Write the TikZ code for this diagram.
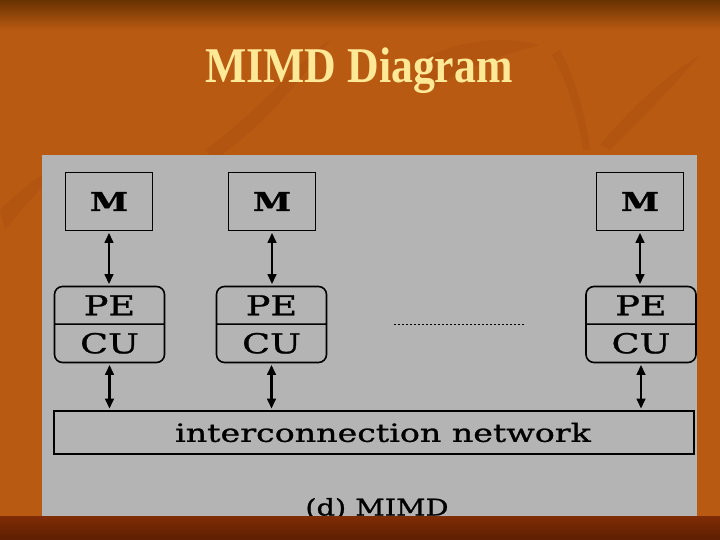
\documentclass[tikz,border=0pt]{standalone}
\usepackage{fontspec}
\setmainfont{Liberation Serif}
\newfontfamily\schema[FakeBold=0.9]{DejaVu Serif}
\usepackage{tikz}
\usetikzlibrary{arrows.meta, positioning, calc, shapes.multipart}
\definecolor{sfondo}{RGB}{184,90,18}
\definecolor{sfondoscuro}{RGB}{105,50,2}
\definecolor{foglia}{RGB}{150,65,10}
\definecolor{fascia}{RGB}{128,44,4}
\definecolor{fasciascura}{RGB}{92,30,2}
\definecolor{pannello}{RGB}{180,180,180}
\definecolor{giallino}{RGB}{255,232,150}
\newcommand{\largo}[1]{\scalebox{1.33}[1]{#1}}
\tikzset{
    mem/.style={draw, line width=1.6pt, minimum width=87pt, minimum height=58pt, inner sep=0pt,
        font=\schema\fontsize{26}{28}\selectfont\bfseries},
    pecu/.style={draw, line width=1.6pt, rounded corners=8pt, rectangle split, rectangle split parts=2,
        minimum width=110pt, inner ysep=8pt, text height=20pt, text depth=0pt,
        font=\schema\fontsize{27.5}{30}\selectfont},
    rete/.style={draw, line width=1.6pt, minimum width=640pt, minimum height=43pt, inner sep=0pt,
        font=\schema\fontsize{25}{27}\selectfont},
    bidir/.style={{Triangle[length=10pt,width=8.5pt]}-{Triangle[length=10pt,width=8.5pt]}, line width=2.4pt, shorten <=1.5pt, shorten >=1.5pt},
    puntini/.style={line width=1.4pt, dash pattern=on 2pt off 2pt}
}

\begin{document}
\begin{tikzpicture}[x=1pt, y=-1pt]
    \useasboundingbox (0,0) rectangle (720,540);
    % Sfondo della slide
    \fill[sfondo] (0,0) rectangle (720,540);
    \shade[top color=sfondoscuro, bottom color=sfondo] (0,0) rectangle (720,30);
    \begin{scope}[fill=foglia, fill opacity=0.2]
        \fill (205,150) .. controls (260,110) and (300,60) .. (330,40) .. controls (300,80) and (270,120) .. (215,160) -- cycle;
        \fill (420,60) .. controls (460,40) and (500,35) .. (540,45) .. controls (500,55) and (460,70) .. (430,90) -- cycle;
        \fill (0,210) .. controls (20,190) and (40,175) .. (60,165) .. controls (45,185) and (25,205) .. (5,230) -- cycle;
        \fill (560,50) .. controls (575,80) and (585,110) .. (590,150) -- (583,150) .. controls (578,115) and (568,85) .. (552,55) -- cycle;
        \fill (600,145) .. controls (630,110) and (660,80) .. (700,55) .. controls (670,90) and (640,120) .. (610,150) -- cycle;
    \end{scope}
    \fill[pannello] (42,155) rectangle (697,516);

    % Titolo
    \node[anchor=base, text=giallino, font=\fontsize{50}{52}\selectfont\bfseries] (titolo) at (359,83)
        {\scalebox{0.875}[1]{MIMD Diagram}};

    % Memorie
    \node[mem] (m1) at (109,201.5) {\largo{M}};
    \node[mem] (m2) at (272,201.5) {\largo{M}};
    \node[mem] (m3) at (640,201.5) {\largo{M}};

    % Processori con unita' di controllo
    \node[pecu] (pe1) at (109.5,324.5) {\largo{PE}\nodepart{two}\largo{CU}};
    \node[pecu] (pe2) at (271.5,324.5) {\largo{PE}\nodepart{two}\largo{CU}};
    \node[pecu] (pe3) at (641,324.5) {\largo{PE}\nodepart{two}\largo{CU}};
    \draw[puntini] ($(pe2.east)!0.26!(pe3.west)$) -- ($(pe2.east)!0.77!(pe3.west)$);

    % Rete di interconnessione
    \node[rete] (net) at (374,432.5) {\hspace*{18pt}\largo{interconnection network}};

    % Collegamenti bidirezionali
    \foreach \i in {1,2,3}{
        \draw[bidir] (m\i.south) -- (m\i.south |- pe\i.north);
        \draw[bidir] (pe\i.south) -- (pe\i.south |- net.north);
    }

    % Didascalia
    \node[anchor=base, font=\schema\fontsize{23}{25}\selectfont] (didascalia) at (377,515.5) {\scalebox{1.25}[1]{(d) MIMD}};

    % Fascia inferiore
    \shade[top color=fascia, bottom color=fasciascura] (0,516) rectangle (720,540);
\end{tikzpicture}
\end{document}
